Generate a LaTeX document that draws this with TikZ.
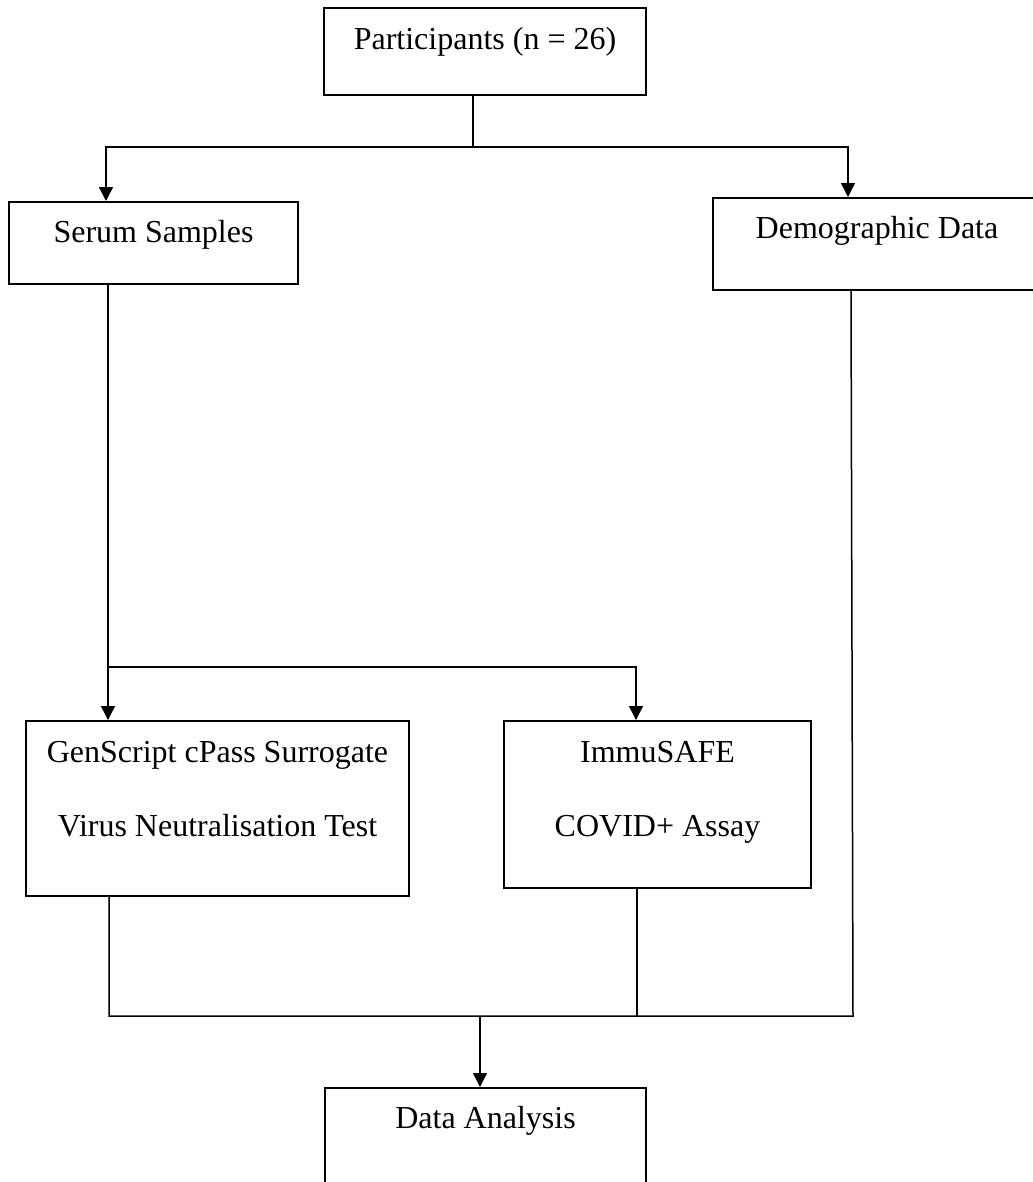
\documentclass[tikz,border=0pt]{standalone}
\usepackage{fontspec}
\setmainfont{Liberation Serif}
\usetikzlibrary{arrows.meta,
                positioning}
\tikzset{
    flowbox/.style={draw, line width=1.8bp, anchor=north, inner sep=0pt, text height=42bp},
    flowline/.style={line width=1.5bp},
    flowarrow/.style={flowline, -{Triangle[length=14bp,width=14bp]}}
}

\begin{document}
\begin{tikzpicture}[x=1bp, y=-1bp, font=\fontsize{32bp}{74bp}\selectfont]
    \useasboundingbox (0,0) rectangle (1033,1182);

    \node[flowbox, minimum width=322bp, text depth=45bp] (part) at (485,7) {Participants (n = 26)};
    \node[flowbox, minimum width=289bp, text height=41bp, text depth=41bp] (serum) at (153.5,201) {Serum Samples};
    \node[flowbox, minimum width=328bp, text height=41bp, text depth=51bp] (demo) at (877,197) {Demographic Data};
    \node[flowbox, minimum width=383bp, text depth=133bp] (gen) at (217.5,720) {\begin{tabular}[t]{@{}c@{}}GenScript cPass Surrogate\\Virus Neutralisation Test\end{tabular}};
    \node[flowbox, minimum width=307bp, text depth=125bp] (immu) at (657.5,720) {\begin{tabular}[t]{@{}c@{}}ImmuSAFE\\COVID+ Assay\end{tabular}};
    \node[flowbox, minimum width=321bp, text height=41bp, text depth=150bp] (data) at (485.5,1087) {Data Analysis};

    % split below participants
    \coordinate (splitA) at (473,147);
    \coordinate (xL) at (106,147);
    \coordinate (xR) at (848,147);
    \draw[flowline] (splitA |- part.south) -- (splitA);
    \draw[flowarrow] (splitA) -| (xL |- serum.north);
    \draw[flowarrow] (splitA) -| (xR |- demo.north);

    % split below serum samples
    \coordinate (splitB) at (108,667);
    \coordinate (xI) at (636,667);
    \draw[flowline] (splitB |- serum.south) -- (splitB);
    \draw[flowarrow] (splitB) -- (splitB |- gen.north);
    \draw[flowarrow] (splitB) -| (xI |- immu.north);

    % join above data analysis
    \coordinate (joinL) at (109,1016);
    \coordinate (joinI) at (637,1016);
    \coordinate (joinR) at (853,1016);
    \coordinate (joinM) at (480,1016);
    \draw[flowline] (joinL |- gen.south) -- (joinL) -- (joinR) -- ([xshift=-2bp]joinR |- demo.south);
    \draw[flowline] (joinI |- immu.south) -- (joinI);
    \draw[flowarrow] (joinM) -- (joinM |- data.north);
\end{tikzpicture}
\end{document}
